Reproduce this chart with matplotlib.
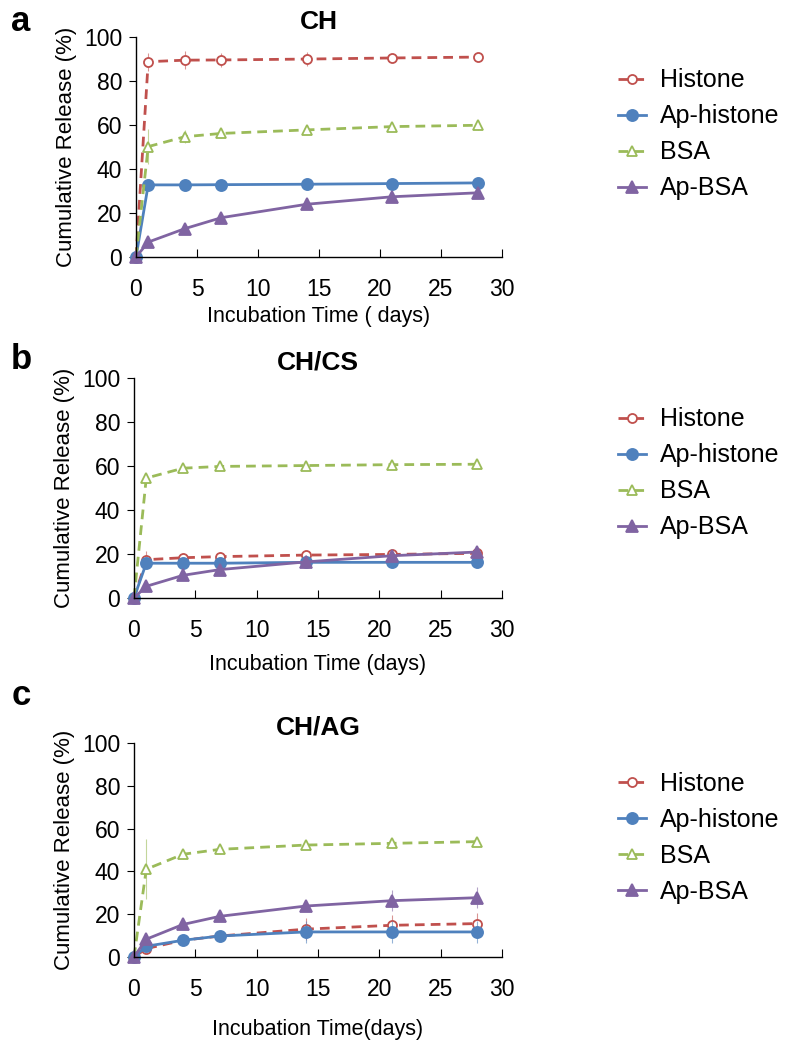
import matplotlib.pyplot as plt
import numpy as np

plt.rcParams['font.family'] = ['Liberation Sans', 'DejaVu Sans']

# incubation days
days = [0, 1, 4, 7, 14, 21, 28]
series_names = ['Histone', 'Ap-histone', 'BSA', 'Ap-BSA']

# panel a: CH
ch_histone = [0, 88.8, 89.5, 89.6, 90.0, 90.5, 90.9]
ch_ap_histone = [0, 32.8, 32.8, 32.9, 33.1, 33.4, 33.7]
ch_bsa = [0, 50.2, 54.7, 56.2, 57.8, 59.3, 59.9]
ch_ap_bsa = [0, 6.8, 12.9, 17.9, 24.0, 27.4, 29.2]
ch_err = [[0, 4, 4, 3, 3, 2, 2], [0, 1, 1, 1, 1, 1, 1],
          [0, 8, 3, 2, 2, 2, 2], [0, 1, 1, 1, 1, 1, 1]]

# panel b: CH/CS
cs_histone = [0, 17.4, 18.3, 18.8, 19.5, 19.8, 20.3]
cs_ap_histone = [0, 15.8, 15.8, 15.8, 16.2, 16.2, 16.2]
cs_bsa = [0, 54.5, 59.0, 59.8, 60.2, 60.6, 60.8]
cs_ap_bsa = [0, 5.3, 10.3, 12.9, 16.4, 19.2, 20.9]
cs_err = [[0, 4, 2, 2, 2, 1, 1], [0, 1, 1, 1, 1, 1, 1],
          [0, 2, 1, 1, 2, 1, 1], [0, 1, 1, 1, 3, 1, 1]]

# panel c: CH/AG
ag_histone = [0, 3.9, 7.8, 9.8, 13.0, 14.8, 15.6]
ag_ap_histone = [0, 5.0, 7.8, 9.8, 11.7, 11.7, 11.7]
ag_bsa = [0, 41.0, 48.0, 50.3, 52.3, 53.1, 53.9]
ag_ap_bsa = [0, 8.3, 15.2, 19.0, 23.8, 26.3, 27.7]
ag_err = [[0, 2, 1, 1, 5, 5, 5], [0, 1, 1, 1, 5, 5, 5],
          [0, 14, 2, 2, 2, 2, 2], [0, 2, 1, 1, 1, 5, 5]]

panels = [
    ('a', 'CH', 'Incubation Time ( days)', [ch_histone, ch_ap_histone, ch_bsa, ch_ap_bsa], ch_err),
    ('b', 'CH/CS', 'Incubation Time (days)', [cs_histone, cs_ap_histone, cs_bsa, cs_ap_bsa], cs_err),
    ('c', 'CH/AG', 'Incubation Time(days)', [ag_histone, ag_ap_histone, ag_bsa, ag_ap_bsa], ag_err),
]

colors = ['#C0504D', '#4F81BD', '#9BBB59', '#8064A2']
markers = ['o', 'o', '^', '^']
faces = ['white', '#4F81BD', 'white', '#8064A2']
msizes = [6.5, 8, 7, 8]
lstyles = [(0, (3.5, 2.2)), '-', (0, (3.5, 2.2)), '-']

# axes rectangles [left, bottom, width, height] in figure fraction
rects = [[0.17, 0.7552, 0.4575, 0.2095],
         [0.1675, 0.4305, 0.46, 0.2095],
         [0.1675, 0.0886, 0.46, 0.2038]]
letter_y = [0.995, 0.673, 0.353]
legend_top = [0.935, 0.612, 0.265]
xlabel_pad = [4, 9, 13]

fig = plt.figure(figsize=(8, 10.5), dpi=100)

for (letter, title, xlabel, data, errs), rect, ly, lt, lp in zip(panels, rects, letter_y, legend_top, xlabel_pad):
    ax = fig.add_axes(rect)
    handles = []
    for vals, err, c, m, fc, ms, ls, name in zip(data, errs, colors, markers, faces, msizes, lstyles, series_names):
        ax.errorbar(days, vals, yerr=err, fmt='none', ecolor=c, elinewidth=0.8,
                    alpha=0.6, capsize=0, clip_on=False)
        h, = ax.plot(days, vals, color=c, linestyle=ls, linewidth=2.0, marker=m,
                     markersize=ms, markerfacecolor=fc, markeredgecolor=c,
                     markeredgewidth=1.3, clip_on=False, label=name)
        handles.append(h)
    ax.set_xlim(0, 30)
    ax.set_ylim(0, 100)
    ax.set_xticks(np.arange(0, 31, 5))
    ax.set_yticks(np.arange(0, 101, 20))
    for s in ['top', 'right']:
        ax.spines[s].set_visible(False)
    for s in ['left', 'bottom']:
        ax.spines[s].set_linewidth(1.0)
    ax.tick_params(axis='x', direction='in', length=6, pad=15, labelsize=16.5)
    ax.tick_params(axis='y', direction='out', length=5, pad=5, labelsize=16.5)
    ax.set_xlabel(xlabel, fontsize=15.5, labelpad=lp)
    ax.set_ylabel('Cumulative Release (%)', fontsize=16, labelpad=5)
    ax.set_title(title, fontsize=19, fontweight='bold', pad=6)
    fig.legend(handles=handles, loc='upper left', bbox_to_anchor=(0.772, lt),
               frameon=False, fontsize=18, handlelength=1.15, handletextpad=0.55,
               labelspacing=0.48, borderpad=0, borderaxespad=0)
    fig.text(0.014, ly, letter, fontsize=25, fontweight='bold', va='top', ha='left')

fig.savefig('out.png', dpi=100)
